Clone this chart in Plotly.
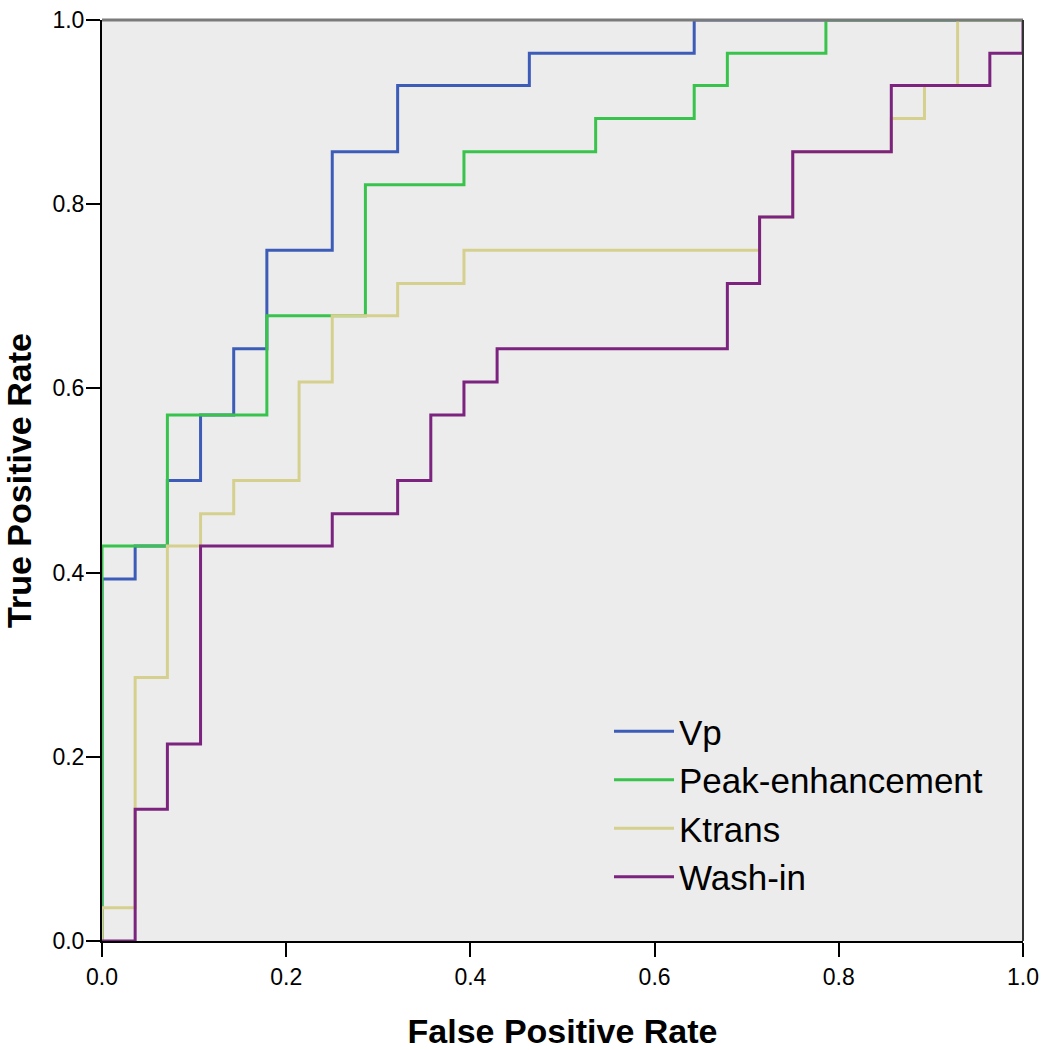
import plotly.graph_objects as go

# ROC curve corner points (false positive rate, true positive rate)
vp_fpr = [0, 0, 0.036, 0.036, 0.071, 0.071, 0.107, 0.107, 0.143, 0.143, 0.179, 0.179,
          0.25, 0.25, 0.321, 0.321, 0.464, 0.464, 0.643, 0.643, 1]
vp_tpr = [0, 0.393, 0.393, 0.429, 0.429, 0.5, 0.5, 0.571, 0.571, 0.643, 0.643, 0.75,
          0.75, 0.857, 0.857, 0.929, 0.929, 0.964, 0.964, 1, 1]

peak_fpr = [0, 0, 0.071, 0.071, 0.179, 0.179, 0.286, 0.286, 0.393, 0.393, 0.536, 0.536,
            0.643, 0.643, 0.679, 0.679, 0.786, 0.786, 1]
peak_tpr = [0, 0.429, 0.429, 0.571, 0.571, 0.679, 0.679, 0.821, 0.821, 0.857, 0.857, 0.893,
            0.893, 0.929, 0.929, 0.964, 0.964, 1, 1]

ktrans_fpr = [0, 0, 0.036, 0.036, 0.071, 0.071, 0.107, 0.107, 0.143, 0.143, 0.214, 0.214,
              0.25, 0.25, 0.321, 0.321, 0.393, 0.393, 0.714, 0.714, 0.75, 0.75, 0.857, 0.857,
              0.893, 0.893, 0.929, 0.929, 1]
ktrans_tpr = [0, 0.036, 0.036, 0.286, 0.286, 0.429, 0.429, 0.464, 0.464, 0.5, 0.5, 0.607,
              0.607, 0.679, 0.679, 0.714, 0.714, 0.75, 0.75, 0.786, 0.786, 0.857, 0.857, 0.893,
              0.893, 0.929, 0.929, 1, 1]

washin_fpr = [0, 0.036, 0.036, 0.071, 0.071, 0.107, 0.107, 0.25, 0.25, 0.321, 0.321, 0.357,
              0.357, 0.393, 0.393, 0.429, 0.429, 0.679, 0.679, 0.714, 0.714, 0.75, 0.75, 0.857,
              0.857, 0.964, 0.964, 1, 1]
washin_tpr = [0, 0, 0.143, 0.143, 0.214, 0.214, 0.429, 0.429, 0.464, 0.464, 0.5, 0.5,
              0.571, 0.571, 0.607, 0.607, 0.643, 0.643, 0.714, 0.714, 0.786, 0.786, 0.857, 0.857,
              0.929, 0.929, 0.964, 0.964, 1]

ticks = [0.0, 0.2, 0.4, 0.6, 0.8, 1.0]
tick_text = ["0.0", "0.2", "0.4", "0.6", "0.8", "1.0"]

curves = [
    ("Vp", vp_fpr, vp_tpr, "#3d5cb8"),
    ("Peak-enhancement", peak_fpr, peak_tpr, "#38c44c"),
    ("Ktrans", ktrans_fpr, ktrans_tpr, "#d6d08e"),
    ("Wash-in", washin_fpr, washin_tpr, "#7b237e"),
]

fig = go.Figure()
for name, xs, ys, col in curves:
    fig.add_trace(go.Scatter(x=xs, y=ys, mode="lines", name=name,
                             line=dict(color=col, width=3)))

axis_common = dict(
    range=[0, 1], tickvals=ticks, ticktext=tick_text,
    showgrid=False, zeroline=False, automargin=False,
    showline=True, linecolor="black", linewidth=2,
    ticks="outside", ticklen=14, tickwidth=2, tickcolor="black",
    tickfont=dict(family="Liberation Sans, Arial", size=23, color="black"),
)
title_font = dict(family="Liberation Sans, Arial", size=34, color="black")

fig.update_layout(
    width=1050, height=1050,
    margin=dict(l=102, r=27, t=20, b=109),
    paper_bgcolor="white",
    plot_bgcolor="#ececec",
    showlegend=True,
    legend=dict(x=0.5505, y=0.2594, xanchor="left", yanchor="top",
                bgcolor="rgba(0,0,0,0)", itemwidth=60,
                font=dict(family="Liberation Sans, Arial", size=35, color="black")),
    xaxis=dict(axis_common,
               title=dict(text="<b>False Positive Rate</b>", standoff=35, font=title_font)),
    yaxis=dict(axis_common, ticklabelstandoff=-3,
               title=dict(text="<b>True Positive Rate</b>", standoff=26, font=title_font)),
)

# frame lines on top and right
fig.add_shape(type="line", xref="paper", yref="paper", x0=0, x1=1, y0=1, y1=1,
              line=dict(color="#7a7a7a", width=3))
fig.add_shape(type="line", xref="paper", yref="paper", x0=1, x1=1, y0=0, y1=1,
              line=dict(color="#333333", width=2))

# drop the default page margin so the figure fills the window exactly
fig.write_html("out.html", config={"displayModeBar": False},
               post_script="document.body.style.margin = '0';")
